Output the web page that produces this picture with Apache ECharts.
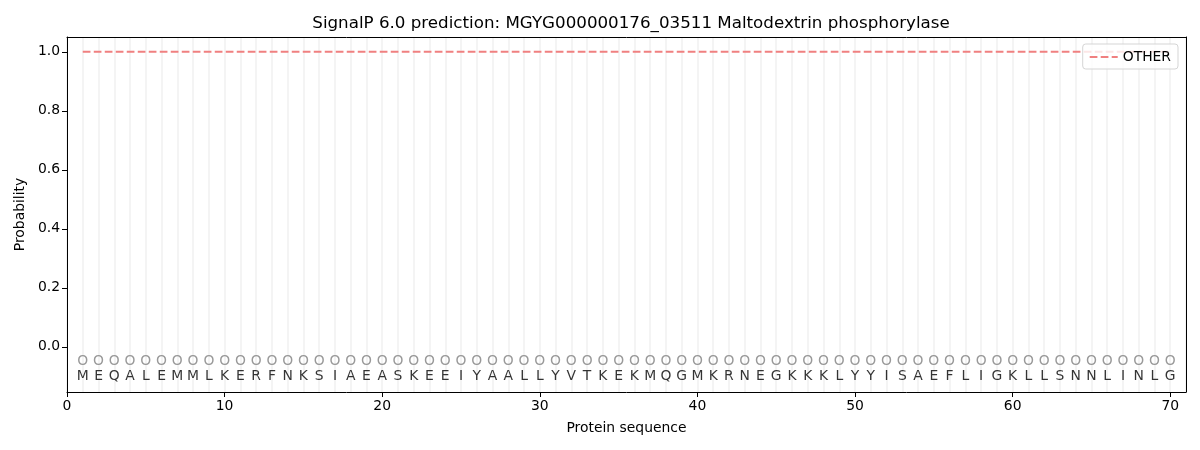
<!DOCTYPE html>
<html>
<head>
<meta charset="utf-8">
<script src="https://cdn.jsdelivr.net/npm/echarts@6/dist/echarts.min.js"></script>
<style>html,body{margin:0;padding:0;background:#fff}#c{width:1200px;height:450px}</style>
</head>
<body>
<div id="c"></div>
<script>
const titleText = 'SignalP 6.0 prediction: MGYG000000176_03511 Maltodextrin phosphorylase';
const residues = 'MEQALEMMLKERFNKSIAEASKEEIYAALLYVTKEKMQGMKRNEGKKKLYYISAEFLIGKLLSNNLINLG'.split('');
const positions = residues.map((_, i) => i + 1);
const probOther = residues.map(() => 1.0);
const predLabels = residues.map(() => 'O');
const xTicks = [0, 10, 20, 30, 40, 50, 60, 70];
const yTicks = [0, 0.2, 0.4, 0.6, 0.8, 1.0];

const font = 'DejaVu Sans';
const fs = 13.9;
const chart = echarts.init(document.getElementById('c'));
chart.setOption({
  animation: false,
  backgroundColor: '#fff',
  title: {
    text: titleText, left: 626, textAlign: 'center', top: 10,
    textStyle: { fontFamily: font, fontSize: 16.7, fontWeight: 'normal', color: '#000' }
  },
  legend: {
    data: ['OTHER'], right: 22, top: 44, orient: 'vertical',
    itemWidth: 28, itemHeight: 10, itemGap: 8, padding: [6, 7, 5, 6],
    borderColor: '#d5d5d5', borderWidth: 1, borderRadius: 3,
    backgroundColor: 'rgba(255,255,255,0.8)',
    itemStyle: { opacity: 0 },
    textStyle: { fontFamily: font, fontSize: fs, color: '#000' }
  },
  grid: { left: 67, right: 14, top: 37, bottom: 58 },
  xAxis: [{
    type: 'value', min: 0, max: 71, position: 'bottom',
    name: 'Protein sequence', nameLocation: 'middle', nameGap: 29,
    nameTextStyle: { fontFamily: font, fontSize: fs, color: '#000' },
    axisLine: { show: true, onZero: false, lineStyle: { color: '#000', width: 1 } },
    axisTick: { show: true, length: 5, customValues: xTicks, lineStyle: { color: '#000' } },
    axisLabel: { customValues: xTicks, fontFamily: font, fontSize: fs, color: '#000', margin: 7 },
    splitLine: { show: false }
  }, {
    type: 'value', min: 0, max: 71, interval: 1, position: 'top',
    axisLine: { show: true, onZero: false, lineStyle: { color: '#000', width: 1 } },
    axisTick: { show: false }, axisLabel: { show: false },
    splitLine: { show: true, lineStyle: { color: '#f0f0f0', width: 1.5 } }
  }],
  yAxis: [{
    type: 'value', min: -0.153, max: 1.05, position: 'left',
    name: 'Probability', nameLocation: 'middle', nameGap: 35,
    nameTextStyle: { fontFamily: font, fontSize: fs, color: '#000' },
    axisLine: { show: true, onZero: false, lineStyle: { color: '#000', width: 1 } },
    axisTick: { show: true, length: 5, customValues: yTicks, lineStyle: { color: '#000' } },
    axisLabel: { customValues: yTicks, formatter: v => v.toFixed(1), fontFamily: font, fontSize: fs, color: '#000', margin: 7 },
    splitLine: { show: false }
  }, {
    type: 'value', min: -0.153, max: 1.05, position: 'right',
    axisLine: { show: true, onZero: false, lineStyle: { color: '#000', width: 1 } },
    axisTick: { show: false }, axisLabel: { show: false }, splitLine: { show: false }
  }],
  series: [{
    name: 'OTHER', type: 'line', xAxisIndex: 0, yAxisIndex: 0,
    data: positions.map((p, i) => [p, probOther[i]]),
    symbol: 'none', itemStyle: { color: '#f08080' },
    lineStyle: { color: '#f08080', width: 2, type: [7.7, 3.3] }
  }, {
    name: 'pred', type: 'scatter', xAxisIndex: 0, yAxisIndex: 0,
    data: positions.map((p, i) => [p, -0.048, predLabels[i]]),
    symbolSize: 0, silent: true,
    label: { show: true, position: 'inside', formatter: d => d.data[2], fontFamily: font, fontSize: fs, color: '#808080' }
  }, {
    name: 'seq', type: 'scatter', xAxisIndex: 0, yAxisIndex: 0,
    data: positions.map((p, i) => [p, -0.099, residues[i]]),
    symbolSize: 0, silent: true,
    label: { show: true, position: 'inside', formatter: d => d.data[2], fontFamily: font, fontSize: fs, color: '#000' }
  }]
});
</script>
</body>
</html>
